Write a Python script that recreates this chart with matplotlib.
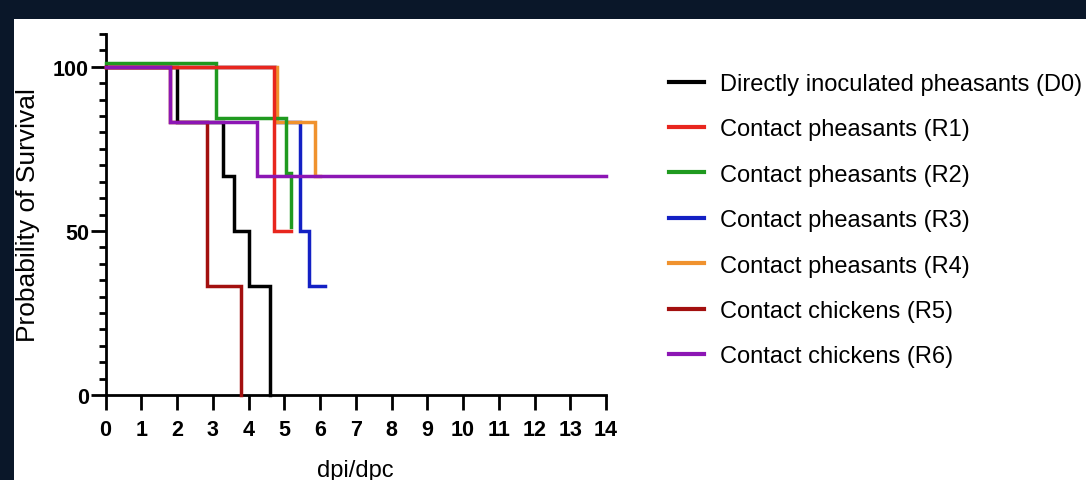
import matplotlib
matplotlib.use("Agg")
import matplotlib.pyplot as plt
import matplotlib.transforms as mtransforms
from matplotlib.patches import Rectangle
from matplotlib.ticker import MultipleLocator

# survival curves (Kaplan-Meier steps): day of event, % surviving after it
d0_days = [0, 2.0, 3.3, 3.6, 4.0, 4.6]
d0_surv = [100, 83.3, 66.7, 50, 33.3, 0]
r1_days = [0, 4.7, 5.2]
r1_surv = [100, 50, 50]
r2_days = [0, 3.1, 5.05, 5.2]
r2_surv = [100, 83.3, 66.7, 50]
r3_days = [0, 4.75, 5.45, 5.7, 6.15]
r3_surv = [100, 83.3, 50, 33.3, 33.3]
r4_days = [0, 4.8, 5.85, 6.0]
r4_surv = [100, 83.3, 66.7, 66.7]
r5_days = [0, 1.8, 2.83, 3.8]
r5_surv = [100, 83.3, 33.3, 0]
r6_days = [0, 1.8, 4.25, 14]
r6_surv = [100, 83.3, 66.7, 66.7]

labels = ["Directly inoculated pheasants (D0)", "Contact pheasants (R1)",
          "Contact pheasants (R2)", "Contact pheasants (R3)",
          "Contact pheasants (R4)", "Contact chickens (R5)",
          "Contact chickens (R6)"]
colors = ["#000000", "#e8261e", "#1f9a1f", "#1320c4", "#f0922e", "#a3100f", "#8c16b4"]
x_ticks = list(range(0, 15))
y_ticks = [0, 50, 100]

W, H = 1086, 481
fig = plt.figure(figsize=(W / 100, H / 100), dpi=100)
fig.patch.set_facecolor("#0a1729")
fig.patches.append(Rectangle((14 / W, 0), 1 - 14 / W, (H - 20) / H,
                             transform=fig.transFigure, facecolor="white",
                             edgecolor="none", zorder=-10))

font = ["Liberation Sans", "DejaVu Sans"]

ax = fig.add_axes([105.5 / W, (H - 396) / H, 500.5 / W, 361 / H])
ax.set_facecolor("none")
ax.set_zorder(5)

series = [(d0_days, d0_surv), (r1_days, r1_surv), (r2_days, r2_surv),
          (r3_days, r3_surv), (r4_days, r4_surv), (r5_days, r5_surv),
          (r6_days, r6_surv)]
zorders = [2, 4, 3, 2.5, 2.6, 5, 6]
for i, (t, s) in enumerate(series):
    tr = ax.transData
    if i == 2:
        # green curve sits a bit higher so it does not hide the others
        tr = tr + mtransforms.ScaledTranslation(0, 3.5 / 100, fig.dpi_scale_trans)
    ax.step(t, s, where="post", color=colors[i], lw=2.5, label=labels[i],
            transform=tr, clip_on=False, solid_joinstyle="miter",
            zorder=zorders[i])

ax.set_xlim(0, 14)
ax.set_ylim(0, 110)
for side in ["top", "right"]:
    ax.spines[side].set_visible(False)
for side in ["left", "bottom"]:
    ax.spines[side].set_linewidth(2)

ax.set_xticks(x_ticks)
ax.set_yticks(y_ticks)
ax.yaxis.set_minor_locator(MultipleLocator(5))
ax.tick_params(axis="x", length=11, width=2, pad=6)
ax.tick_params(axis="y", which="major", length=11, width=2, pad=1)
ax.tick_params(axis="y", which="minor", length=5, width=2)
for lab in ax.get_xticklabels() + ax.get_yticklabels():
    lab.set_family(font)
    lab.set_fontsize(15.5)
    lab.set_fontweight("bold")

ax.set_xlabel("dpi/dpc", family=font, fontsize=17, labelpad=14)
ax.set_ylabel("Probability of Survival", family=font, fontsize=19, labelpad=9)

leg = ax.legend(loc="upper left", bbox_to_anchor=(669 / W, 1 - 74 / H),
                bbox_transform=fig.transFigure, frameon=False,
                prop={"family": font, "size": 17},
                handlelength=1.5, handletextpad=0.64, labelspacing=0.99,
                borderaxespad=0, borderpad=0)
for ln in leg.get_lines():
    ln.set_linewidth(3)

fig.savefig("out.png", dpi=100, facecolor=fig.get_facecolor())
